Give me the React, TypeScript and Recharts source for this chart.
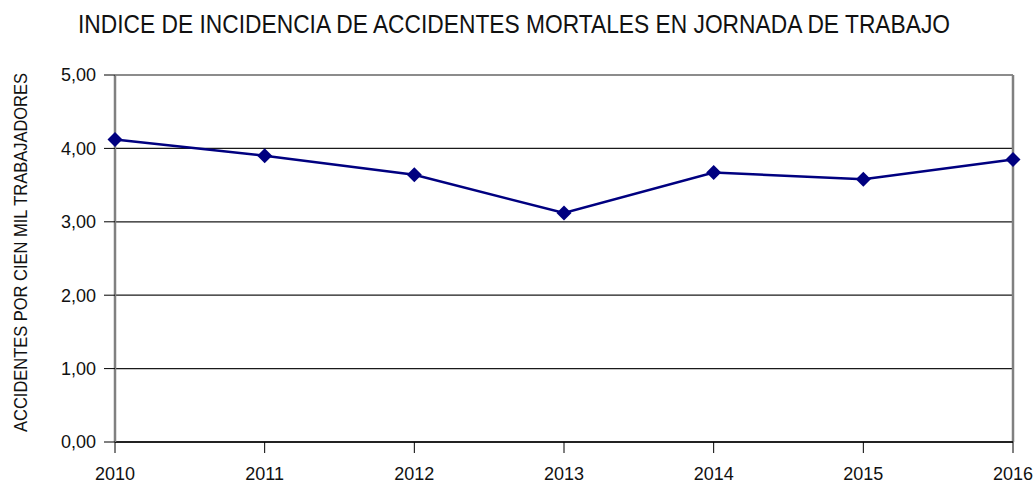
import { LineChart, Line, XAxis, YAxis, CartesianGrid, ReferenceLine } from 'recharts'

const years = ['2010', '2011', '2012', '2013', '2014', '2015', '2016']
const indice = [4.12, 3.9, 3.64, 3.12, 3.67, 3.58, 3.85]
const yTicks = [0, 1, 2, 3, 4, 5]

const title = 'INDICE DE INCIDENCIA DE ACCIDENTES MORTALES EN JORNADA DE TRABAJO'
const yTitle = 'ACCIDENTES POR CIEN MIL TRABAJADORES'

const data = years.map((year, i) => ({ year, indice: indice[i] }))

const font = '"Liberation Sans", Arial, sans-serif'

function Diamond(props: { cx?: number; cy?: number; index?: number }) {
  const { cx, cy, index } = props
  if (cx == null || cy == null) return null
  const r = 7.5
  return (
    <polygon
      key={index}
      points={`${cx},${cy - r} ${cx + r},${cy} ${cx},${cy + r} ${cx - r},${cy}`}
      fill="#000080"
    />
  )
}

export default function App() {
  const fmt = (v: number) => v.toFixed(2).replace('.', ',')

  return (
    <div style={{ position: 'absolute', left: 0, top: 0, width: 1036, height: 483, background: '#fff' }}>
      <LineChart
        width={1036}
        height={483}
        data={data}
        margin={{ top: 75, right: 23, left: 0, bottom: 0 }}
      >
        <CartesianGrid vertical={false} stroke="#1a1a1a" strokeWidth={1.2} />
        <XAxis
          dataKey="year"
          height={41}
          tickSize={11}
          tickMargin={14}
          interval={0}
          axisLine={{ stroke: '#000', strokeWidth: 1.5 }}
          tickLine={{ stroke: '#000' }}
          tick={{ fill: '#111', fontSize: 18, fontFamily: font }}
        />
        <YAxis
          width={115}
          domain={[0, 5]}
          ticks={yTicks}
          tickFormatter={fmt}
          tickSize={11}
          tickMargin={8}
          axisLine={{ stroke: '#808080', strokeWidth: 2.5 }}
          tickLine={{ stroke: '#000' }}
          tick={{ fill: '#111', fontSize: 18, fontFamily: font }}
        />
        <ReferenceLine x="2016" stroke="#808080" strokeWidth={2.5} />
        <Line
          dataKey="indice"
          stroke="#000080"
          strokeWidth={2.5}
          dot={<Diamond />}
          activeDot={false}
          isAnimationActive={false}
        />
      </LineChart>
      <svg
        width={1036}
        height={483}
        style={{ position: 'absolute', left: 0, top: 0, pointerEvents: 'none' }}
      >
        <text
          transform="translate(514, 33.3) scale(1, 1.08)"
          textAnchor="middle"
          fontSize={24}
          fontFamily={font}
          fill="#111"
          textLength={872}
          lengthAdjust="spacingAndGlyphs"
        >
          {title}
        </text>
        <text
          transform="translate(27, 252.5) rotate(-90)"
          textAnchor="middle"
          fontSize={18}
          fontFamily={font}
          fill="#111"
          textLength={359}
          lengthAdjust="spacingAndGlyphs"
        >
          {yTitle}
        </text>
      </svg>
    </div>
  )
}
